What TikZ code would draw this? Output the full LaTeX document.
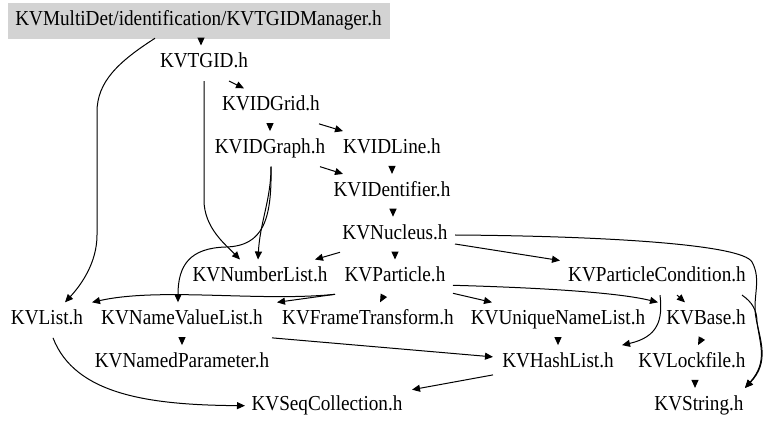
\documentclass[tikz,border=0pt]{standalone}
\usepackage{fontspec}
\setmainfont[FakeStretch=0.9]{Liberation Serif}
\usetikzlibrary{arrows.meta,calc}
\definecolor{rootgray}{RGB}{211,211,211}
\tikzset{
  hdr/.style={font=\fontsize{16}{18}\selectfont, text height=11pt, text depth=4pt,
    minimum height=26.25pt, inner ysep=0pt, inner xsep=4.5pt},
  rootbox/.style={hdr, fill=rootgray, draw=rootgray, minimum width=285.75pt},
  dep/.style={draw=black, line width=0.75pt, -{Triangle[length=6pt,width=5.25pt]}},
}
\begin{document}
\begin{tikzpicture}[x=0.75pt,y=-0.75pt]
\useasboundingbox (0,0) rectangle (768,427);
% nodes
\node[rootbox] (mgr) at (198.5,20.5) {KVMultiDet/identification/KVTGIDManager.h};
\node[hdr] (tgid) at (204,63.3) {KVTGID.h};
\node[hdr] (idgrid) at (271,106.1) {KVIDGrid.h};
\node[hdr] (idgraph) at (270,148.9) {KVIDGraph.h};
\node[hdr] (idline) at (392,148.9) {KVIDLine.h};
\node[hdr] (ident) at (392,191.7) {KVIDentifier.h};
\node[hdr] (nuc) at (395,234.5) {KVNucleus.h};
\node[hdr] (numl) at (260,277.3) {KVNumberList.h};
\node[hdr] (part) at (395,277.3) {KVParticle.h};
\node[hdr] (pcond) at (657,277.3) {KVParticleCondition.h};
\node[hdr] (list) at (47,320.1) {KVList.h};
\node[hdr] (nvl) at (182,320.1) {KVNameValueList.h};
\node[hdr] (ft) at (368,320.1) {KVFrameTransform.h};
\node[hdr] (unl) at (558,320.1) {KVUniqueNameList.h};
\node[hdr] (base) at (706,320.1) {KVBase.h};
\node[hdr] (npar) at (182,362.9) {KVNamedParameter.h};
\node[hdr] (hl) at (558,362.9) {KVHashList.h};
\node[hdr] (lock) at (692,362.9) {KVLockfile.h};
\node[hdr] (seq) at (327,405.7) {KVSeqCollection.h};
\node[hdr] (str) at (699,405.7) {KVString.h};
% edges
\draw[dep] ($(mgr.south)+(2.5,0)$) -- ($(tgid.north)+(-3,0)$);
\draw[dep] ($(mgr.south)+(-43.5,0)$) .. controls (118,62) and (97,82) .. (97,112)
  -- (97,235) .. controls (97,262) and (82,284) .. ($(list.north)+(18,0)$);
\draw[dep] ($(tgid.south)+(25,0)$) -- ($(idgrid.north)+(-27,0)$);
\draw[dep] (tgid.south) -- (204,200) .. controls (204,228) and (226,245) .. ($(numl.north)+(-20,0)$);
\draw[dep] ($(idgrid.south)+(-1,0)$) -- (idgraph.north);
\draw[dep] ($(idgrid.south)+(48,0)$) -- ($(idline.north)+(-49,0)$);
\draw[dep] ($(idgraph.south)+(50,0)$) -- ($(ident.north)+(-49,0)$);
\draw[dep] ($(idgraph.south)+(1,0)$) .. controls (271,200) and (260,222) .. ($(numl.north)+(-2,0)$);
\draw[dep] ($(idgraph.south)+(1,0)$) .. controls (272,220) and (263,246) .. (226,247)
  .. controls (190,248) and (178,265) .. ($(nvl.north)+(-4,0)$);
\draw[dep] (idline.south) -- (ident.north);
\draw[dep] ($(ident.south)+(1,0)$) -- ($(nuc.north)+(-2,0)$);
\draw[dep] ($(nuc.south)+(-55,0)$) -- ($(numl.north)+(55,0)$);
\draw[dep] (nuc.south) -- (part.north);
\draw[dep] ($(nuc.center)+(60,9.5)$) -- ($(pcond.north)+(-97,1)$);
\draw[dep] ($(nuc.center)+(60,0.5)$) .. controls (600,236) and (742,244) .. (752,262)
  .. controls (762,280) and (752,298) .. (756,318)
  .. controls (760,340) and (770,362) .. ($(str.north)+(46,0)$);
\draw[dep] ($(pcond.south)+(85,0)$) .. controls (752,302) and (757,310) .. (757,322)
  .. controls (760,345) and (768,362) .. ($(str.north)+(46,0)$);
\draw[dep] ($(part.center)+(-60,17)$) .. controls (260,302) and (160,287) .. ($(list.north)+(45,0)$);
\draw[dep] ($(part.center)+(-60,17)$) -- ($(nvl.north)+(95,0)$);
\draw[dep] ($(part.south)+(-11,0)$) -- ($(ft.north)+(12,0)$);
\draw[dep] ($(part.center)+(58,16)$) -- ($(unl.north)+(-66,0)$);
\draw[dep] ($(part.center)+(58,8)$) .. controls (550,288) and (620,293) .. ($(base.north)+(-48,0)$);
\draw[dep] ($(pcond.south)+(3,0)$) .. controls (663,320) and (658,337) .. ($(hl.north)+(64,0)$);
\draw[dep] ($(pcond.south)+(20,0)$) -- ($(base.north)+(-21,0)$);
\draw[dep] (nvl.south) -- (npar.north);
\draw[dep] ($(nvl.south)+(90,0)$) -- ($(hl.center)+(-65,-6)$);
\draw[dep] (unl.south) -- (hl.north);
\draw[dep] ($(base.south)+(-4,0)$) -- ($(lock.north)+(6,0)$);
\draw[dep] ($(lock.south)+(3,0)$) -- ($(str.north)+(-4,0)$);
\draw[dep] ($(hl.center)+(-65,12)$) -- ($(seq.center)+(85,-16)$);
\draw[dep] ($(list.south)+(6,0)$) .. controls (75,395) and (150,405) .. ($(seq.center)+(-82,0)$);
\end{tikzpicture}
\end{document}
